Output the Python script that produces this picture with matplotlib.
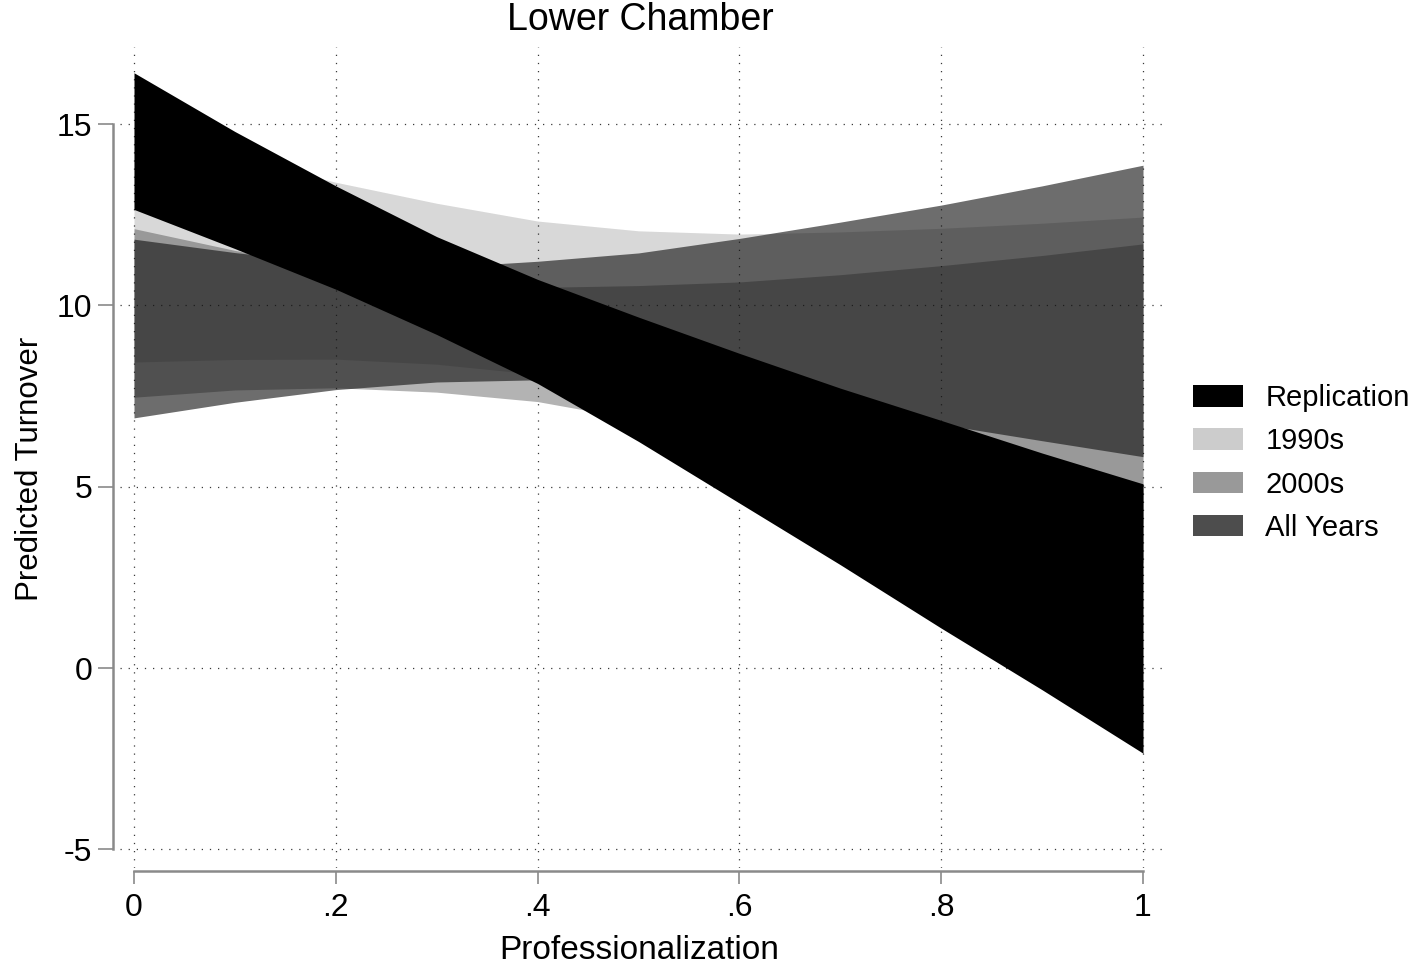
import matplotlib
matplotlib.use('Agg')
import matplotlib.pyplot as plt
from matplotlib.patches import Patch

plt.rcParams['font.family'] = ['Liberation Sans', 'DejaVu Sans']
plt.rcParams['axes.unicode_minus'] = False

# predicted turnover bands at x = 0, .1, ..., 1
prof = [0.0, 0.1, 0.2, 0.3, 0.4, 0.5, 0.6, 0.7, 0.8, 0.9, 1.0]
rep_hi = [16.42, 14.80, 13.30, 11.90, 10.72, 9.68, 8.68, 7.72, 6.83, 5.93, 5.08]
rep_lo = [12.65, 11.57, 10.45, 9.20, 7.85, 6.25, 4.55, 2.85, 1.10, -0.60, -2.35]
s90_hi = [14.90, 14.10, 13.40, 12.82, 12.33, 12.06, 11.97, 12.03, 12.13, 12.27, 12.44]
s90_lo = [8.44, 8.51, 8.52, 8.38, 8.10, 7.70, 7.20, 6.60, 5.90, 5.00, 4.00]
s00_hi = [12.12, 11.52, 11.00, 10.70, 10.50, 10.55, 10.65, 10.85, 11.10, 11.38, 11.70]
s00_lo = [7.47, 7.67, 7.73, 7.61, 7.35, 6.85, 6.30, 5.60, 4.80, 3.90, 2.90]
all_hi = [11.83, 11.46, 11.15, 11.05, 11.22, 11.45, 11.85, 12.30, 12.77, 13.30, 13.87]
all_lo = [6.90, 7.33, 7.68, 7.89, 7.95, 7.75, 7.45, 7.10, 6.72, 6.27, 5.83]

labels = ['Replication', '1990s', '2000s', 'All Years']
key_colors = ['#000000', '#cccccc', '#999999', '#4d4d4d']

xticks = [0, 0.2, 0.4, 0.6, 0.8, 1.0]
xticklabels = ['0', '.2', '.4', '.6', '.8', '1']
yticks = [-5, 0, 5, 10, 15]

W, H = 1410, 971
fig = plt.figure(figsize=(W / 100, H / 100), dpi=100)
# plot region in pixels: left 120, right 1165, top 47, bottom 868
ax = fig.add_axes([120 / W, 1 - 868 / H, (1165 - 120) / W, (868 - 47) / H])
ax.set_xlim((120 - 134) / 1009, (1165 - 134) / 1009)
ax.set_ylim((668 - 868) / 36.25, (668 - 47) / 36.25)

# translucent bands, then the opaque replication band on top
ax.fill_between(prof, s90_lo, s90_hi, color='#141414', alpha=0.166, lw=0, zorder=2)
ax.fill_between(prof, s00_lo, s00_hi, color='#1b1b1b', alpha=0.333, lw=0, zorder=3)
ax.fill_between(prof, all_lo, all_hi, color='#151515', alpha=0.625, lw=0, zorder=4)
ax.fill_between(prof, rep_lo, rep_hi, color='black', lw=0, zorder=5)

ax.set_axisbelow(True)
ax.grid(True, color='#3a3a3a', linestyle=(0, (1, 5.5)), linewidth=0.9)

axis_grey = '#8a8a8a'
for side in ['top', 'right']:
    ax.spines[side].set_visible(False)
ax.spines['left'].set_bounds(-5, 15)
ax.spines['left'].set_position(('outward', 5))
ax.spines['bottom'].set_bounds(0, 1)
ax.spines['bottom'].set_position(('outward', 2.5))
for side in ['left', 'bottom']:
    ax.spines[side].set_color(axis_grey)
    ax.spines[side].set_linewidth(1.8)

ax.set_xticks(xticks)
ax.set_xticklabels(xticklabels)
ax.set_yticks(yticks)
ax.tick_params(axis='y', direction='out', length=11, width=1.2, color=axis_grey,
               labelsize=23, pad=4)
ax.tick_params(axis='x', direction='out', length=9.5, width=1.2, color=axis_grey,
               labelsize=23, pad=6)

fig.text(640 / W, 1 - 20 / H, 'Lower Chamber', fontsize=27, ha='center', va='center')
fig.text(639 / W, 1 - 950 / H, 'Professionalization', fontsize=24, ha='center', va='center')
fig.text(30 / W, 1 - 469 / H, 'Predicted Turnover', fontsize=22.5, rotation=90,
         ha='center', va='center')

handles = [Patch(facecolor=c, edgecolor='none') for c in key_colors]
fig.legend(handles, labels, loc='center left', bbox_to_anchor=(1193 / W, 1 - 463 / H),
           frameon=False, fontsize=21, borderpad=0, borderaxespad=0,
           handlelength=1.72, handleheight=0.76, handletextpad=0.76, labelspacing=0.52)

fig.savefig('out.png', dpi=100)
